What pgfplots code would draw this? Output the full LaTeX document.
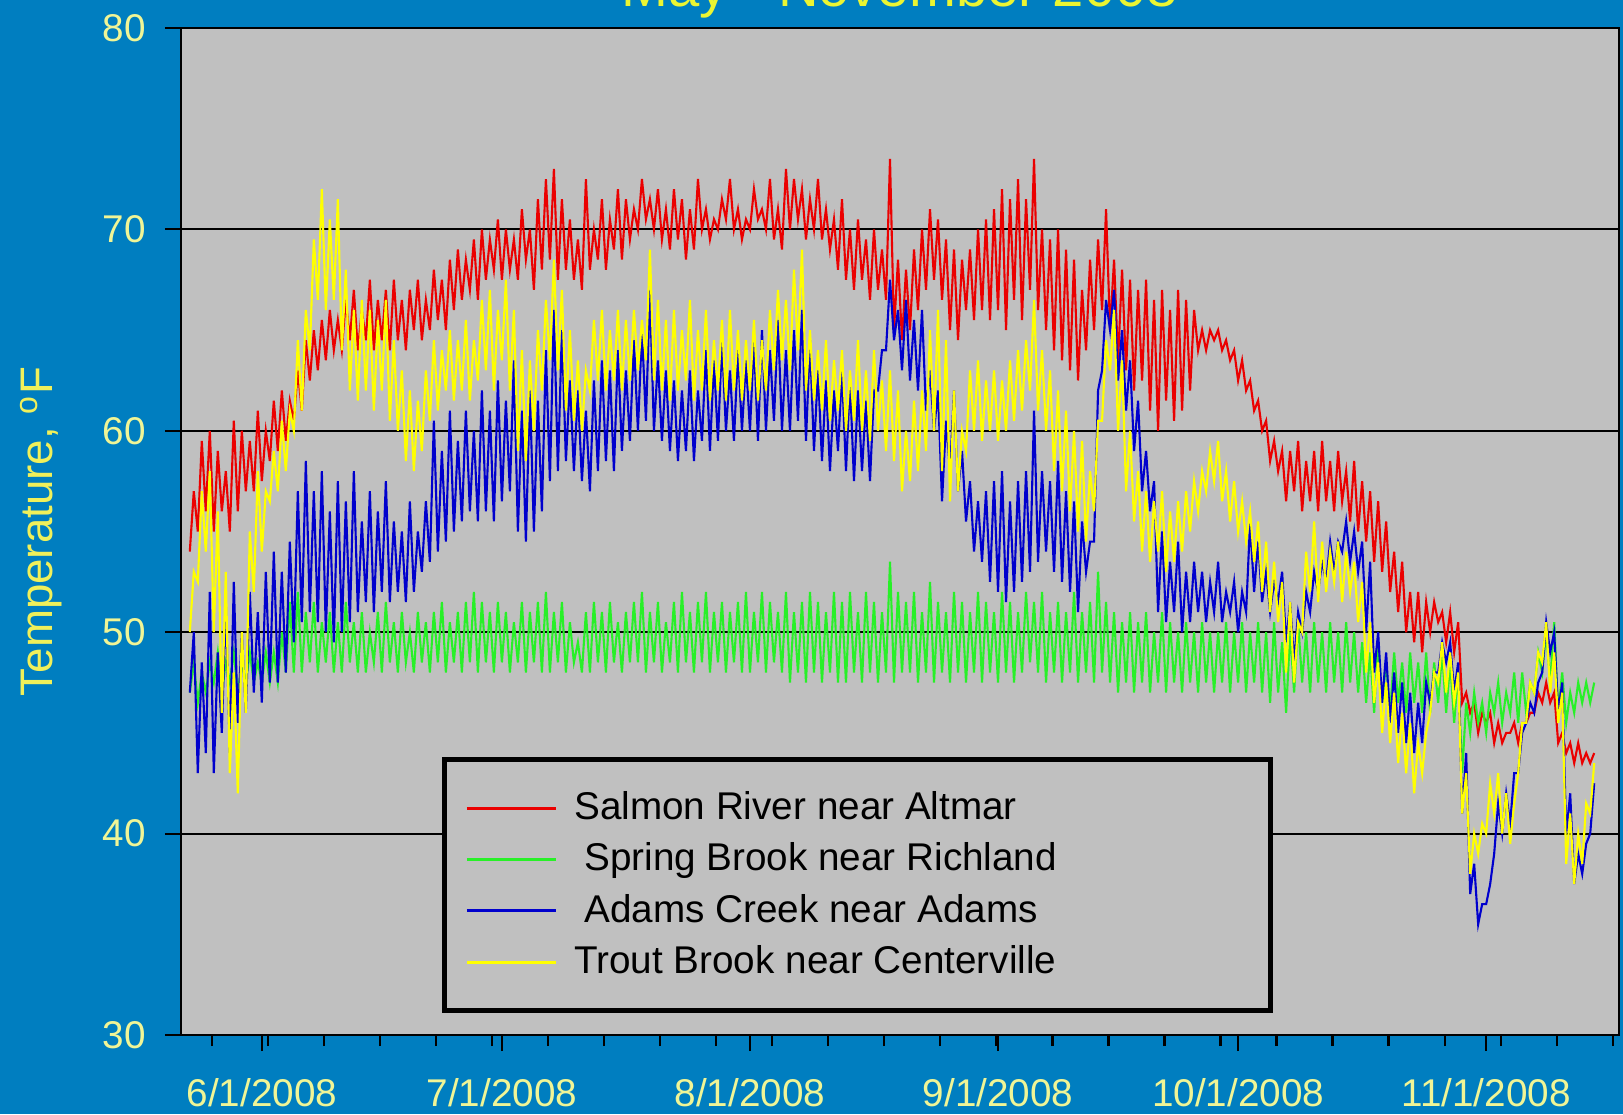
\documentclass[border=0pt]{standalone}
\usepackage{pgfplots}
\pgfplotsset{compat=1.18}
\usepackage{fontspec}
\setmainfont{Liberation Sans}
\definecolor{slideblue}{RGB}{0,126,192}
\definecolor{plotgray}{RGB}{192,192,192}
\definecolor{ticktext}{RGB}{240,245,150}
\definecolor{labeltext}{RGB}{240,240,90}
\definecolor{titletext}{RGB}{235,245,50}
\definecolor{sred}{RGB}{235,0,0}
\definecolor{sgreen}{RGB}{40,240,40}
\definecolor{sblue}{RGB}{0,0,205}
\definecolor{syellow}{RGB}{255,255,0}
\begin{document}
\begin{tikzpicture}
\useasboundingbox (0,0) rectangle (16.23,11.14);
\fill[slideblue] (0,0) rectangle (16.23,11.14);
\begin{axis}[
  at={(1.81cm,0.79cm)}, anchor=south west,
  scale only axis, width=14.38cm, height=10.07cm,
  xmin=-10.1, xmax=169.6, ymin=30, ymax=80,
  axis background/.style={fill=plotgray},
  axis line style={black, line width=0.8pt},
  tick pos=left, tick align=outside,
  xtick={0,30,61,92,122,153},
  xticklabels={6/1/2008,7/1/2008,8/1/2008,9/1/2008,10/1/2008,11/1/2008},
  minor xtick={-6.2,0.8,7.8,14.8,21.8,28.8,35.8,42.8,49.8,56.8,63.8,70.8,77.8,84.8,91.8,98.8,105.8,112.8,119.8,126.8,133.8,140.8,147.8,154.8,161.8,168.8},
  ytick={30,40,50,60,70,80},
  ymajorgrids, grid style={black, line width=0.6pt},
  major tick length=1.6mm, minor tick length=1.1mm,
  every tick/.style={black, line width=0.6pt},
  tick label style={text=ticktext, font=\fontsize{11}{13}\selectfont},
  /pgf/number format/assume math mode=true,
  xticklabel style={yshift=-1.5mm},
  yticklabel style={xshift=-0.7mm},
  every axis y label/.style={at={(rel axis cs:0,0.5)}, anchor=center, xshift=-14mm, rotate=90, text=labeltext, font=\fontsize{13}{15}\selectfont},
  ylabel={Temperature, \textsuperscript{o}F},
  legend style={at={(rel axis cs:0.1815,0.276)}, anchor=north west, draw=black, line width=1.4pt, fill=plotgray, font=\fontsize{11}{13}\selectfont, text=black, inner xsep=2.1mm, inner ysep=2.5mm, row sep=0.4mm, /tikz/every odd column/.append style={column sep=1mm}},
  legend cell align=left,
  legend image code/.code={\draw[#1, line width=0.8pt] (-0.5mm,0mm) -- (8.4mm,0mm);},
]
\addplot[sred, line width=0.6pt] table[x expr=\coordindex*0.5-9, y index=0, header=false, row sep=\\] {
54\\57\\55\\59.5\\56\\60\\55\\59\\56\\58\\55\\60.5\\56\\60\\57\\59.5\\57\\61\\57.5\\60\\
58.5\\61.5\\59\\62\\59.5\\61.5\\60.5\\63\\61\\64.5\\62.5\\65\\63\\65.5\\63.5\\66\\64\\65.5\\64\\66.5\\
64.5\\67\\64\\66\\64.5\\67.5\\64\\66.5\\64.5\\67\\64\\67.5\\64.5\\66.5\\64\\67\\65\\67.5\\64.5\\66.5\\
65\\68\\65.5\\67.5\\65\\68.5\\66\\69\\66.5\\68.5\\67\\69.5\\66.5\\70\\67.5\\69.5\\68\\70.5\\67.5\\70\\
68\\69.5\\67.5\\71\\68.5\\70\\67\\71.5\\68\\72.5\\68.5\\73\\67.5\\71.5\\68\\70.5\\67.5\\69.5\\67\\72.5\\
68\\70\\68.5\\71.5\\68\\70.5\\69\\72\\68.5\\71.5\\69.5\\71\\70\\72.5\\70.5\\71.5\\70\\72\\69.5\\71\\
69\\72\\69.5\\71.5\\68.5\\71\\69\\72.5\\70\\71\\69.5\\70.5\\70\\71.5\\70.5\\72.5\\70\\71\\69.5\\70.5\\
70\\72\\70.5\\71\\70\\72.5\\69.5\\71\\69\\73\\70\\72.5\\70.5\\72\\69.5\\71.5\\70\\72.5\\69.5\\71\\
69\\70.5\\68\\71.5\\67.5\\70\\67\\70.5\\67.5\\69.5\\66.5\\70\\67\\69\\66.5\\73.5\\65\\68.5\\64.5\\68\\
65\\69\\66\\70\\67\\71\\67.5\\70.5\\66.5\\69.5\\65\\69\\64.5\\68.5\\66\\69\\65.5\\70\\66\\70.5\\
65.5\\71\\66\\72\\65\\71.5\\66.5\\72.5\\65.5\\71.5\\67\\73.5\\66\\70\\65\\69.5\\64\\70\\63.5\\69\\
63\\68.5\\62.5\\67\\64\\68.5\\65\\69.5\\66\\71\\65\\68.5\\63.5\\68\\63\\67.5\\62\\67\\62.5\\67.5\\
61\\66.5\\60\\67\\61.5\\66\\60.5\\67\\61\\66.5\\62\\66\\64\\65\\64\\65\\64.5\\65\\64\\64.5\\
63.5\\64\\62.5\\63.5\\62\\62.5\\61\\61.5\\60\\60.5\\58.5\\59.5\\58\\59\\56.5\\59\\57\\59.5\\56\\58.5\\
56.5\\59\\56\\59.5\\56.5\\58.5\\56\\59\\56.5\\58\\55.5\\58.5\\55\\57.5\\54.5\\57\\53.5\\56.5\\53\\55.5\\
52\\54\\51\\53.5\\50\\52\\49.5\\52\\49\\51.5\\50\\51.5\\50.5\\51\\49.5\\51\\49\\50.5\\46.5\\47\\
46\\46.5\\45\\46\\45.5\\46\\44.5\\45.5\\44.5\\45\\45\\45.5\\44.5\\45.5\\45.5\\46\\46\\47\\46.5\\47.5\\
46.5\\47\\44.5\\45\\44\\44.5\\43.5\\44.5\\43.5\\44\\43.5\\44\\
};
\addlegendentry{Salmon River near Altmar}
\addplot[sgreen, line width=0.6pt] table[x expr=\coordindex*0.5-9, y index=0, header=false, row sep=\\] {
47\\48.5\\46.5\\48\\47\\48.5\\47.5\\49\\47\\48.5\\47.5\\49\\47\\48.5\\47.5\\49\\47.5\\48.5\\47.5\\49\\
47.5\\49\\47.5\\50\\48\\51.5\\48\\52\\48\\51\\48.5\\51.5\\48\\50.5\\48.5\\51\\48\\50.5\\48\\51.5\\
48.5\\50.5\\48\\51\\48\\50\\48.5\\51\\48\\51.5\\48.5\\50.5\\48\\51\\48.5\\50\\48\\51\\48.5\\50.5\\
48\\51\\48.5\\51.5\\48\\50.5\\48.5\\51\\48\\51.5\\48.5\\52\\48\\51.5\\48.5\\51\\48\\51.5\\48.5\\51\\
48\\50.5\\48.5\\51.5\\48\\51\\48.5\\51.5\\48\\52\\48\\51\\48.5\\51.5\\48\\50.5\\48.5\\49.5\\48\\51\\
48\\51.5\\48.5\\51\\48\\51.5\\48.5\\50.5\\48\\51\\48.5\\51.5\\48.5\\52\\48\\51\\48.5\\51.5\\48\\50.5\\
48.5\\51.5\\48\\52\\48.5\\51\\48\\51.5\\48.5\\52\\48\\51\\48.5\\51.5\\48\\51\\48.5\\51.5\\48\\52\\
48\\51\\48.5\\52\\48\\51.5\\48.5\\51\\48\\52\\47.5\\51\\48\\51.5\\47.5\\52\\48\\51.5\\47.5\\51\\
48\\52\\47.5\\51.5\\47.5\\52\\48\\51\\47.5\\52\\48\\51.5\\47.5\\51\\48\\53.5\\47.5\\52\\48\\51.5\\
48\\52\\47.5\\51\\48\\52.5\\47.5\\51.5\\48\\51\\47.5\\52\\48\\51.5\\47.5\\51\\48\\52\\47.5\\51.5\\
48\\51\\47.5\\52\\48\\51.5\\47.5\\51\\48\\52\\48.5\\51.5\\48\\52\\47.5\\51\\48\\51.5\\47.5\\51\\
48\\52\\47.5\\51\\48\\51.5\\47.5\\53\\48\\51.5\\47.5\\51\\47\\50.5\\47.5\\51\\47\\50.5\\47.5\\51\\
47\\50\\47.5\\51\\47\\50.5\\47.5\\50\\47\\50.5\\47.5\\50\\47\\50.5\\47.5\\50\\47\\50\\47.5\\50.5\\
47\\50\\47.5\\50.5\\47\\50\\47.5\\50.5\\47\\50\\46.5\\50.5\\47\\49.5\\46\\50\\47\\50.5\\47.5\\50\\
47\\50.5\\47.5\\50\\47\\50.5\\47.5\\50\\47\\50.5\\47.5\\50\\47\\49.5\\46.5\\49\\46\\49.5\\46.5\\48.5\\
46\\49\\46.5\\48.5\\46\\49\\46.5\\48.5\\46\\49\\46\\48.5\\46.5\\49\\46\\48.5\\45.5\\48\\43\\46.5\\
45\\47\\45.5\\46.5\\45\\47\\46\\47.5\\45.5\\47\\46\\48\\45.5\\48\\46\\47.5\\47\\49\\48\\50\\
47.5\\50.5\\46\\48\\45.5\\47\\46\\47.5\\46.5\\47.5\\46.5\\47.5\\
};
\addlegendentry{\hspace{1mm}Spring Brook near Richland}
\addplot[sblue, line width=0.6pt] table[x expr=\coordindex*0.5-9, y index=0, header=false, row sep=\\] {
47\\50\\43\\48.5\\44\\52\\43\\49\\45\\51.5\\44\\52.5\\45.5\\50\\46\\52\\47\\51\\46.5\\53\\
47.5\\54\\47.5\\53\\48\\54.5\\49.5\\57\\50.5\\58.5\\51\\57\\50.5\\58\\50\\56\\49.5\\57.5\\50\\56.5\\
50.5\\58\\51\\55.5\\51.5\\57\\51\\56\\52\\57.5\\51.5\\55.5\\52\\55\\51.5\\56.5\\52\\55\\53\\56.5\\
53.5\\60.5\\54\\59\\54.5\\61\\55\\59.5\\55.5\\61\\56\\60\\55.5\\62\\56\\61\\55.5\\62.5\\56.5\\61.5\\
57\\63.5\\55\\61\\54.5\\62\\55\\61.5\\56\\64\\57.5\\66\\58\\65\\58.5\\62.5\\58\\62\\57.5\\61\\
57\\62.5\\58\\63.5\\58.5\\63\\58\\64\\59\\63\\59.5\\64.5\\60\\65\\60.5\\67\\60\\63.5\\59.5\\63\\
59\\62.5\\58.5\\62\\59\\63\\58.5\\62\\59.5\\64\\59\\63.5\\59.5\\64.5\\60\\63\\59.5\\64\\60\\63.5\\
60\\64.5\\59.5\\65\\60\\64\\60.5\\65.5\\60\\64\\60\\65\\60.5\\66\\59.5\\64.5\\59\\63\\58.5\\62.5\\
58\\62\\59\\63\\58\\62.5\\57.5\\62\\58\\61.5\\57.5\\62\\62\\64\\64\\67.5\\64.5\\66\\63\\66.5\\
62.5\\65.5\\62\\66\\61\\63\\60\\62\\56.5\\60.5\\58\\62\\57\\59\\55.5\\57.5\\54\\56.5\\53.5\\57\\
52.5\\57.5\\52\\58\\51.5\\56.5\\52\\57.5\\52.5\\58\\53\\61\\53.5\\58\\54\\57.5\\53\\58.5\\52.5\\57\\
52\\56.5\\51\\55.5\\53\\54.5\\54.5\\62\\63\\66.5\\65\\67\\62.5\\65\\61\\63.5\\59\\61.5\\57\\59\\
56\\57.5\\51\\55\\50.5\\53.5\\51\\54.5\\50\\53\\50.5\\53.5\\51\\53\\50.5\\52.5\\51\\53.5\\50.5\\52\\
51\\52.5\\50\\52\\51\\55.5\\52\\54.5\\51.5\\53\\51\\52.5\\51.5\\53\\49.5\\51.5\\48.5\\51\\50\\52\\
51\\53\\52\\53.5\\52.5\\54.5\\53\\54.5\\54\\55.5\\53.5\\55\\53\\54.5\\50\\53.5\\48\\50\\46.5\\49\\
45.5\\48\\45\\47.5\\44.5\\47\\44\\46.5\\44.5\\47.5\\46.5\\48\\48\\49.5\\48.5\\49.5\\47\\48.5\\41\\44\\
37\\38.5\\35.5\\36.5\\36.5\\37.5\\39\\41.5\\40\\42\\40.5\\43\\43\\45\\45.5\\46.5\\46\\47.5\\48\\50.5\\
49\\50\\46\\47.5\\40\\42\\37.5\\39\\38\\39.5\\40\\42.5\\
};
\addlegendentry{\hspace{1mm}Adams Creek near Adams}
\addplot[syellow, line width=0.6pt] table[x expr=\coordindex*0.5-9, y index=0, header=false, row sep=\\] {
50\\53\\52.5\\57\\54\\58\\50\\56\\46\\53\\43\\48\\42\\50\\46\\55\\52\\58\\54\\57\\
56.5\\59\\57\\60.5\\58\\61\\60\\64.5\\61\\66\\64\\69.5\\66.5\\72\\66\\70.5\\66.5\\71.5\\64\\68\\
62\\66\\61.5\\66.5\\62\\66\\61\\65.5\\62\\66.5\\60.5\\64.5\\60\\63\\58.5\\62\\58\\61.5\\59\\63\\
60.5\\64.5\\61\\64\\62\\65\\61.5\\64.5\\62\\65.5\\61.5\\64.5\\62.5\\66.5\\63\\67\\62\\66\\63.5\\67.5\\
62\\66\\59\\64\\58.5\\63.5\\60\\65\\62\\66.5\\63.5\\68.5\\63\\67\\61\\65\\60.5\\63.5\\60\\63\\
62\\65.5\\62.5\\66\\62\\65\\62.5\\66\\62\\65.5\\62.5\\66\\63\\65.5\\63.5\\69\\62.5\\66.5\\62\\65.5\\
61.5\\66\\62\\65\\62.5\\66.5\\61.5\\65\\62\\66\\61.5\\64.5\\62\\65.5\\61.5\\66\\62\\65\\61.5\\64.5\\
62\\65.5\\61.5\\64.5\\62\\66\\63\\67\\63.5\\66.5\\63\\68\\64\\69\\62\\65\\61.5\\64\\61\\64.5\\
60.5\\63.5\\61\\64\\60\\63\\60.5\\64.5\\60\\63\\59.5\\64\\60\\62.5\\59\\63\\58.5\\62\\57\\60\\
57.5\\61.5\\58\\62\\59\\65\\60\\66\\58\\64.5\\56.5\\62\\57\\60\\59\\63\\60\\63.5\\59.5\\62.5\\
60\\63\\59.5\\62.5\\60\\63.5\\60.5\\64\\61\\64.5\\62\\66.5\\61\\64\\60\\63\\58\\62\\57\\61\\
56\\60\\55\\59.5\\54.5\\58\\56\\60.5\\60.5\\64.5\\63\\66\\60\\63.5\\57\\60\\55.5\\58\\54\\57\\
53.5\\56.5\\54\\57\\53\\56\\53.5\\56.5\\54\\57\\55\\57.5\\56\\58\\57\\59\\57.5\\59.5\\56.5\\58\\
55.5\\57.5\\55\\56.5\\54.5\\56\\53.5\\55.5\\52\\54.5\\51\\53.5\\50.5\\52.5\\48\\51.5\\47.5\\50.5\\50\\54\\
52\\55.5\\51.5\\54.5\\52\\54\\52.5\\54.5\\51.5\\54\\52\\53.5\\50.5\\52.5\\48\\50.5\\46.5\\48.5\\45\\47.5\\
44.5\\47\\43.5\\46\\43\\45.5\\42\\44.5\\43\\45\\46\\48\\47.5\\49.5\\47\\49\\46.5\\48\\41\\43\\
38\\40\\39\\40.5\\40\\42.5\\41\\43\\40\\42\\39.5\\41.5\\43\\45.5\\45.5\\47.5\\47\\49\\48.5\\50.5\\
47\\49\\45.5\\47\\38.5\\41\\37.5\\40\\38.5\\41.5\\41\\43.5\\
};
\addlegendentry{Trout Brook near Centerville\hspace*{18.6mm}}
\end{axis}
\node[anchor=base, text=titletext, font=\fontsize{16}{18}\selectfont] at (9.00,11.07) {May - November 2008};
\end{tikzpicture}
\end{document}
